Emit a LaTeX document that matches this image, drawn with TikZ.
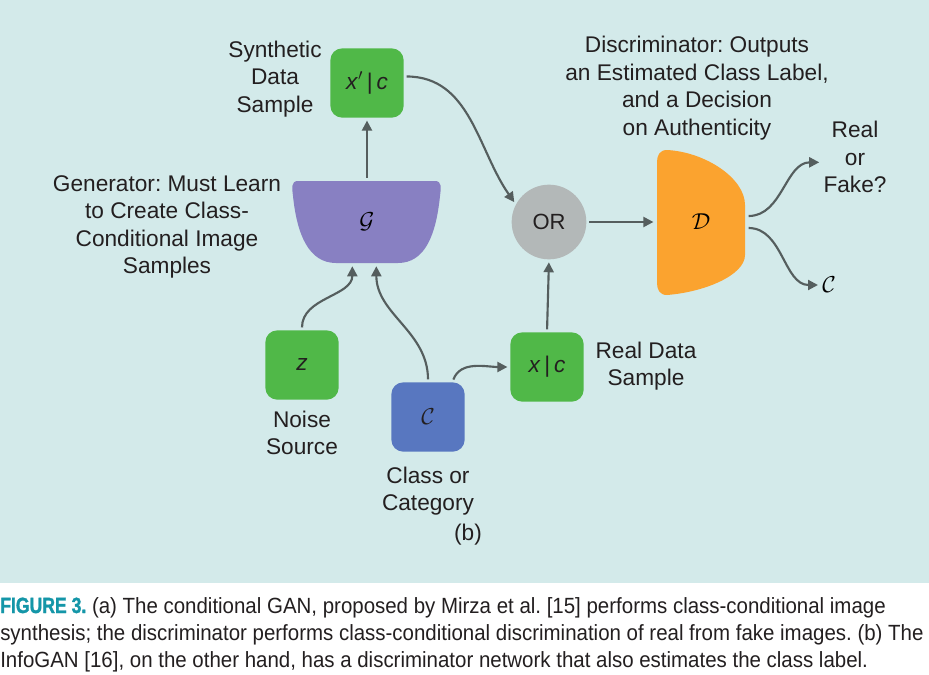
\documentclass[tikz,border=0pt]{standalone}
\usepackage{fontspec}
\setmainfont{Liberation Sans}
\newfontfamily\capfont[FakeStretch=0.93]{Liberation Sans}
\newfontfamily\capbold[FakeStretch=0.8,FakeBold=1.5]{Liberation Sans Bold}
\usetikzlibrary{arrows.meta,positioning}
\definecolor{bgcyan}{HTML}{D3EAEA}
\definecolor{boxgreen}{HTML}{50B848}
\definecolor{boxblue}{HTML}{5877C0}
\definecolor{genpurple}{HTML}{8880C2}
\definecolor{discorange}{HTML}{FBA32F}
\definecolor{orgray}{HTML}{B3B8B8}
\definecolor{arrgray}{HTML}{555E5E}
\definecolor{txtdark}{HTML}{231F20}
\definecolor{capteal}{HTML}{1496A8}
\frenchspacing

\begin{document}
\begin{tikzpicture}[x=0.75pt,y=-0.75pt,>=Triangle,
 box/.style={rounded corners=9pt,minimum width=55pt,minimum height=52pt,inner sep=0pt,font=\fontsize{17}{20}\selectfont,text=txtdark},
 lbl/.style={align=center,font=\fontsize{17}{20.6}\selectfont,text=txtdark,inner sep=1pt},
 arr/.style={->,line width=1.6pt,draw=arrgray,shorten <=2pt,shorten >=2pt,>={Triangle[length=7.5pt,width=7.5pt]}},
 capline/.style={anchor=base west,inner sep=0pt,font=\capfont\fontsize{16.5}{20}\selectfont,text=txtdark}]
\useasboundingbox (0,0) rectangle (929,675);
\fill[white] (0,0) rectangle (929,675);
\fill[bgcyan] (0,0) rectangle (929,583);
% generator and discriminator shapes
\fill[genpurple] (298,181) -- (435,181) .. controls (442,181) and (441,188) .. (440,196)
 .. controls (436,235) and (425,263) .. (398,263) -- (336,263)
 .. controls (309,263) and (297,235) .. (293,196) .. controls (292,188) and (291,181) .. (298,181) -- cycle;
\fill[discorange] (667,150) .. controls (705,152) and (745,178) .. (745,205) -- (745,255)
 .. controls (745,275) and (705,292) .. (667,295) .. controls (660,295) and (657,290) .. (657,283)
 -- (657,162) .. controls (657,155) and (660,150) .. (667,150) -- cycle;
% nodes
\node[box,fill=boxgreen] (synth) at (367,83) {\textit{x}$'$\,|\,\textit{c}};
\node[minimum width=110pt,minimum height=62pt,font=\fontsize{17}{20}\selectfont] (gen) at (367,222) {$\mathcal{G}$};
\node[box,fill=boxgreen] (noise) at (302,365) {\textit{z}};
\node[box,fill=boxblue] (cls) at (428,417) {$\mathcal{C}$};
\node[box,fill=boxgreen] (real) at (547,367) {\textit{x}\,|\,\textit{c}};
\node[circle,fill=orgray,minimum size=56pt,inner sep=0pt,font=\fontsize{16.5}{20}\selectfont,text=txtdark] (orn) at (549,222) {OR};
\node[minimum width=67pt,minimum height=108pt,font=\fontsize{17}{20}\selectfont] (disc) at (701,222) {$\mathcal{D}$};
% labels
\node[lbl] (synthlbl) at (275,79) {Synthetic\\Data\\Sample};
\node[lbl] (genlbl) at (167,227) {Generator: Must Learn\\to Create Class-\\Conditional Image\\Samples};
\node[lbl] (disclbl) at (697,88) {Discriminator: Outputs\\an Estimated Class Label,\\and a Decision\\on Authenticity};
\node[lbl] (realfake) at (855,157) {Real\\or\\Fake?};
\node[font=\fontsize{17}{20}\selectfont,inner sep=1pt] (cout) at (829,285) {$\mathcal{C}$};
\node[lbl] (reallbl) at (646,366) {Real Data\\Sample};
\node[lbl,below=7pt of noise] (noiselbl) {Noise\\Source};
\node[lbl,below=10pt of cls] (clslbl) {Class or\\Category};
\node[lbl] (blbl) at (468,535) {(b)};
% connectors
\draw[arr] (gen.north) -- (synth.south);
\draw[arr] (synth.10) to[out=0,in=125] (orn.152);
\draw[arr] (orn.east) -- (disc.west);
\draw[arr] (real.north) -- (orn.south);
\draw[arr] (cls.55) to[out=70,in=180] (real.west);
\draw[arr] (noise.north) to[out=90,in=-90] ([xshift=-11pt]gen.south);
\draw[arr] (cls.north) to[out=90,in=-90] ([xshift=7pt]gen.south);
\draw[arr] ([yshift=4.5pt]disc.east) to[out=0,in=180] ([yshift=-4pt]realfake.west);
\draw[arr] ([yshift=-4.5pt]disc.east) to[out=0,in=180] (cout.west);
% caption
\node[capline] (cap1) at (0,613) {{\capbold\color{capteal}FIGURE 3.} (a) The conditional GAN, proposed by Mirza et al. [15] performs class-conditional image};
\node[capline] (cap2) at (0,640) {synthesis; the discriminator performs class-conditional discrimination of real from fake images. (b) The};
\node[capline] (cap3) at (0,667) {InfoGAN [16], on the other hand, has a discriminator network that also estimates the class label.};
\end{tikzpicture}
\end{document}
